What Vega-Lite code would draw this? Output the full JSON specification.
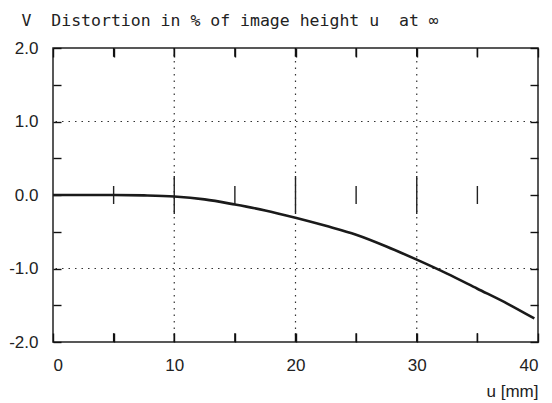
{
  "$schema": "https://vega.github.io/schema/vega-lite/v6.json",
  "width": 485,
  "height": 294,
  "autosize": {"type": "none"},
  "padding": {"left": 53, "top": 48, "right": 14, "bottom": 61},
  "background": "white",
  "datasets": {
    "minor": [{"t": 5}, {"t": 15}, {"t": 25}, {"t": 35}],
    "major": [{"t": 10}, {"t": 20}, {"t": 30}],
    "all": [{"t": 5}, {"t": 10}, {"t": 15}, {"t": 20}, {"t": 25}, {"t": 30}, {"t": 35}]
  },
  "config": {
    "view": {"stroke": "#222", "strokeWidth": 1.5},
    "axis": {
      "domain": false,
      "grid": false,
      "ticks": true,
      "tickColor": "#111",
      "tickWidth": 1.4,
      "tickSize": -8,
      "tickOpacity": 1,
      "zindex": 2,
      "labelFont": "Liberation Sans",
      "labelFontSize": 17,
      "labelColor": "#222",
      "titleFont": "Liberation Sans",
      "titleFontSize": 17,
      "titleFontWeight": "normal",
      "titleColor": "#222"
    }
  },
  "layer": [
    {
      "data": {"name": "major"},
      "mark": {"type": "rule", "stroke": "#333", "strokeWidth": 1.2, "strokeDash": [1.5, 5]},
      "encoding": {
        "x": {
          "field": "t",
          "type": "quantitative",
          "scale": {"domain": [0, 40], "nice": false, "zero": false},
          "axis": {"orient": "top", "values": [0, 5, 10, 15, 20, 25, 30, 35, 40], "tickSize": -9, "labels": false, "title": null}
        }
      }
    },
    {
      "data": {"values": [{"gy": 1}, {"gy": -1}]},
      "mark": {"type": "rule", "stroke": "#333", "strokeWidth": 1.2, "strokeDash": [1.5, 5]},
      "encoding": {
        "y": {
          "field": "gy",
          "type": "quantitative",
          "scale": {"domain": [-2, 2], "nice": false, "zero": false},
          "axis": {"orient": "right", "values": [-2, -1.5, -1, -0.5, 0, 0.5, 1, 1.5, 2], "labels": false, "title": null}
        }
      }
    },
    {
      "mark": {"type": "rule", "stroke": "#222", "strokeWidth": 1.5},
      "encoding": {"y": {"datum": 0, "type": "quantitative", "axis": null}}
    },
    {
      "data": {"name": "all"},
      "mark": {"type": "rule", "stroke": "#111", "strokeWidth": 1.4},
      "encoding": {
        "x": {"field": "t", "type": "quantitative", "axis": null},
        "y": {"datum": 2, "type": "quantitative", "axis": null},
        "y2": {"datum": 1.88}
      }
    },
    {
      "data": {"name": "all"},
      "mark": {"type": "rule", "stroke": "#111", "strokeWidth": 1.4},
      "encoding": {
        "x": {"field": "t", "type": "quantitative", "axis": null},
        "y": {"datum": -2, "type": "quantitative", "axis": null},
        "y2": {"datum": -1.88}
      }
    },
    {
      "data": {"name": "major"},
      "mark": {"type": "tick", "orient": "vertical", "size": 38, "thickness": 1.4, "color": "#222", "opacity": 1},
      "encoding": {
        "x": {"field": "t", "type": "quantitative", "axis": null},
        "y": {"datum": 0, "type": "quantitative", "axis": null}
      }
    },
    {
      "data": {"name": "minor"},
      "mark": {"type": "tick", "orient": "vertical", "size": 18, "thickness": 1.4, "color": "#222", "opacity": 1},
      "encoding": {
        "x": {"field": "t", "type": "quantitative", "axis": null},
        "y": {"datum": 0, "type": "quantitative", "axis": null}
      }
    },
    {
      "data": {
        "values": [
          {"u": 0, "v": 0},
          {"u": 2.5, "v": 0},
          {"u": 5, "v": 0},
          {"u": 7.5, "v": -0.005},
          {"u": 10, "v": -0.02},
          {"u": 12.5, "v": -0.06},
          {"u": 15, "v": -0.13},
          {"u": 17.5, "v": -0.21},
          {"u": 20, "v": -0.31},
          {"u": 22.5, "v": -0.42},
          {"u": 25, "v": -0.54},
          {"u": 27.5, "v": -0.7},
          {"u": 30, "v": -0.88},
          {"u": 32.5, "v": -1.07},
          {"u": 35, "v": -1.275},
          {"u": 37.5, "v": -1.48},
          {"u": 39.7, "v": -1.68}
        ]
      },
      "mark": {"type": "line", "stroke": "#1a1a1a", "strokeWidth": 2.6, "interpolate": "monotone"},
      "encoding": {
        "x": {
          "field": "u",
          "type": "quantitative",
          "axis": {
            "orient": "bottom",
            "values": [0, 5, 10, 15, 20, 25, 30, 35, 40],
            "tickSize": -9,
            "labelExpr": "datum.value % 10 == 0 ? datum.label : ''",
            "labelPadding": 24,
            "title": "u [mm]",
            "titleAnchor": "end",
            "titleAlign": "right",
            "titleBaseline": "alphabetic",
            "titleX": 485,
            "titleY": 54
          }
        },
        "y": {
          "field": "v",
          "type": "quantitative",
          "axis": {
            "orient": "left",
            "values": [-2, -1.5, -1, -0.5, 0, 0.5, 1, 1.5, 2],
            "labelExpr": "datum.value % 1 == 0 ? replace(format(datum.value, '.1f'), '−', '-') : ''",
            "labelPadding": 23,
            "title": "V\u00a0\u00a0Distortion in % of image height u\u00a0\u00a0at ∞",
            "titleAngle": 0,
            "titleAlign": "left",
            "titleBaseline": "alphabetic",
            "titleX": -32,
            "titleY": -23,
            "titleFont": "DejaVu Sans Mono",
            "titleFontSize": 16.5,
            "titleColor": "#222"
          }
        }
      }
    }
  ]
}
